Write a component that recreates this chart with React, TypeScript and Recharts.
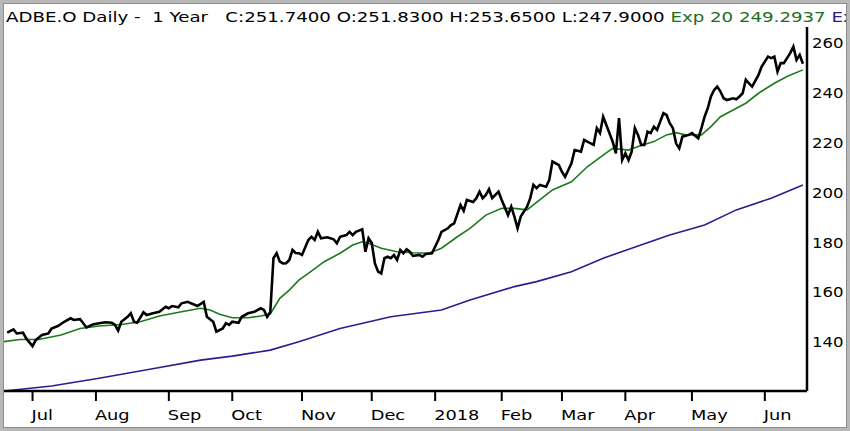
import { LineChart, Line, XAxis, YAxis } from 'recharts'

// x = trading day index since start of window, y = price
const closePrices: [number, number][] = [
  [1, 143.8], [3, 145.1], [4, 143.5], [6, 143.8], [7, 141.5], [9, 138.4], [10, 140.8],
  [12, 142.9], [14, 143.5], [15, 145.5], [17, 146.5], [19, 148.2], [21, 149.6], [22, 148.9],
  [24, 149.2], [25, 147.6], [26, 145.9], [28, 147.1], [30, 147.6], [32, 148], [34, 147.8],
  [35, 146.9], [36, 144.6], [37, 148.2], [39, 150.2], [40, 151.6], [41, 148.2], [42, 147.8],
  [44, 152], [45, 150.9], [47, 151.6], [49, 152.2], [51, 154.2], [52, 153.6], [53, 154.5],
  [55, 154], [56, 155.6], [58, 156.2], [59, 155.6], [61, 154.5], [63, 156.2], [64, 150.2],
  [66, 148.2], [67, 144.2], [69, 145.5], [70, 147.6], [71, 146.9], [72, 148.2], [74, 147.8],
  [75, 150.2], [77, 151.6], [79, 152.2], [81, 153.6], [82, 152.9], [83, 150.2], [84, 152.1],
  [85, 173.7], [86, 175.7], [87, 172.3], [88, 171.6], [89, 171.7], [90, 173], [91, 177],
  [92, 175.8], [93, 175.7], [94, 175], [96, 181], [97, 182.3], [98, 181], [99, 184.3],
  [100, 181.7], [102, 182.1], [104, 181.3], [105, 179.7], [106, 182.3], [108, 183],
  [109, 184.3], [110, 183], [111, 184.3], [113, 185.3], [114, 176.3], [115, 181.7],
  [116, 179.8], [117, 171.6], [118, 168.3], [119, 167.6], [120, 173.7], [121, 174.3],
  [122, 173.7], [123, 175], [124, 173], [125, 177], [126, 175.7], [127, 177.3], [128, 176.3],
  [129, 174.6], [131, 175], [132, 174.3], [133, 175.4], [135, 175.7], [137, 181], [138, 184.3],
  [140, 185.7], [141, 187], [142, 187.7], [144, 195.1], [145, 192.7], [146, 197.1],
  [148, 196.3], [149, 197.8], [150, 200.4], [151, 197.8], [152, 199.1], [153, 201.4],
  [154, 197.8], [155, 199.1], [156, 200.4], [157, 197.1], [159, 191], [160, 194.4],
  [161, 190.4], [162, 185.7], [163, 190.4], [165, 194.4], [166, 197.8], [167, 203.1],
  [168, 201.8], [169, 203.1], [171, 202.4], [172, 205.1], [173, 212.5], [175, 211.1],
  [176, 208.4], [177, 206.4], [178, 209.1], [179, 211.8], [180, 217.1], [182, 216.5],
  [183, 221.2], [184, 220.5], [186, 219.2], [187, 225.9], [188, 223.9], [189, 230.5],
  [190, 227.2], [192, 220.5], [193, 215.8], [194, 229.9], [195, 213.1], [196, 215.8],
  [197, 213.1], [198, 216.5], [199, 225.9], [200, 223.2], [201, 219.2], [202, 219.2],
  [203, 224.5], [204, 223.9], [205, 226.5], [206, 225.2], [208, 231.9], [209, 231.2],
  [210, 227.9], [211, 225.9], [212, 219.8], [213, 217.8], [214, 222.5], [216, 223.2],
  [217, 223.9], [219, 221.8], [220, 225.9], [221, 230.5], [222, 233.9], [223, 238.6],
  [224, 241.2], [225, 242.6], [226, 240.6], [227, 237.9], [228, 237.2], [230, 237.9],
  [231, 237.5], [232, 238.6], [233, 239.9], [234, 245.3], [235, 243.9], [236, 242.6],
  [238, 247.3], [239, 250.6], [240, 252.6], [241, 254.6], [242, 254], [243, 254.6],
  [244, 248.6], [245, 252], [246, 252], [247, 254], [248, 256], [249, 258.6], [250, 253.3],
  [251, 255.3], [252, 251.74],
]

const ema20: [number, number][] = [
  [0, 140.2], [5, 141.1], [11, 141.1], [18, 142.9], [24, 145.5], [30, 146.5], [37, 147.1],
  [43, 148.2], [49, 150.5], [56, 152.2], [62, 153.6], [65, 152.9], [68, 151.2], [72, 149.8],
  [77, 149.8], [81, 150.5], [84, 151.3], [87, 157.6], [90, 160.9], [93, 164.9], [96, 167.6],
  [101, 172.3], [106, 175.7], [110, 179], [113, 180.3], [115, 179.7], [119, 177.7],
  [124, 176.3], [129, 175.9], [134, 175.7], [138, 177.7], [143, 182.3], [147, 185.7],
  [152, 191], [157, 193.7], [161, 193.7], [165, 193.1], [169, 197.1], [173, 201.1],
  [179, 204.4], [184, 210.4], [189, 215.1], [192, 217.8], [197, 217.1], [200, 218.5],
  [205, 220.5], [209, 223.2], [212, 224.1], [215, 223.2], [220, 223.2], [223, 226.5],
  [226, 230.5], [230, 233.2], [234, 235.9], [238, 239.9], [243, 243.9], [247, 246.6],
  [252, 249.29],
]

const ema200: [number, number][] = [
  [0, 120.4], [15, 122.4], [30, 125.5], [46, 129.1], [62, 132.8], [72, 134.4], [84, 136.8],
  [93, 140.2], [106, 145.5], [122, 150.2], [138, 152.9], [147, 156.9], [161, 162.3],
  [168, 164.3], [179, 168.3], [189, 173.7], [200, 178.6], [210, 183], [221, 187],
  [231, 193.1], [242, 197.8], [252, 203.1],
]

const monthTicks = [9, 29, 52, 72, 94, 116, 136, 157, 176, 196, 217, 240]
const monthLabels = ['Jul', 'Aug', 'Sep', 'Oct', 'Nov', 'Dec', '2018', 'Feb', 'Mar', 'Apr', 'May', 'Jun']
const priceTicks = [140, 160, 180, 200, 220, 240, 260]

const FONT = '"DejaVu Sans", Verdana, sans-serif'

const toRows = (pts: [number, number][]) => pts.map(([d, v]) => ({ d, v }))

function MonthTick(props: any) {
  const { x, y, payload } = props
  const label = monthLabels[monthTicks.indexOf(payload.value)]
  return (
    <text
      transform={`translate(${x - 1},${y + 19}) scale(1.27,1)`}
      fontFamily={FONT}
      fontSize={14}
      fill="#000"
    >
      {label}
    </text>
  )
}

function PriceTick(props: any) {
  const { x, y, payload } = props
  return (
    <text
      transform={`translate(${x},${y + 5}) scale(1.18,1)`}
      fontFamily={FONT}
      fontSize={14}
      fill="#000"
    >
      {payload.value}
    </text>
  )
}

export default function App() {
  return (
    <div style={{ position: 'absolute', left: 0, top: 0, width: 850, height: 431, background: '#fff' }}>
      <LineChart width={850} height={431} margin={{ top: 27, right: 0, bottom: 0, left: 4 }}>
        <XAxis
          type="number"
          dataKey="d"
          domain={[0, 253.3]}
          ticks={monthTicks}
          tick={<MonthTick />}
          height={40}
          axisLine={{ stroke: '#000', strokeWidth: 2.5 }}
          tickLine={{ stroke: '#000', strokeWidth: 2 }}
          tickSize={10}
          tickMargin={0}
          allowDataOverflow
        />
        <YAxis
          orientation="right"
          type="number"
          domain={[120.4, 266.5]}
          ticks={priceTicks}
          tick={<PriceTick />}
          width={43}
          axisLine={{ stroke: '#000', strokeWidth: 2.5 }}
          tickLine={false}
          tickSize={0}
          tickMargin={5}
          allowDataOverflow
        />
        <Line data={toRows(ema200)} dataKey="v" type="linear" stroke="#2c1d8e" strokeWidth={1.6} dot={false} isAnimationActive={false} />
        <Line data={toRows(ema20)} dataKey="v" type="linear" stroke="#1c7a1c" strokeWidth={1.6} dot={false} isAnimationActive={false} />
        <Line data={toRows(closePrices)} dataKey="v" type="linear" stroke="#000" strokeWidth={2.6} dot={false} isAnimationActive={false} />
      </LineChart>
      <svg width={850} height={30} style={{ position: 'absolute', left: 0, top: 0 }}>
        <text
          transform="translate(6,21.7) scale(1.3,1)"
          fontFamily={FONT}
          fontSize={14}
          style={{ whiteSpace: 'pre' }}
        >
          <tspan fill="#000">{'ADBE.O Daily -  1 Year   C:251.7400 O:251.8300 H:253.6500 L:247.9000 '}</tspan>
          <tspan fill="#1b6e1b">{'Exp 20 249.2937 '}</tspan>
          <tspan fill="#2c1d8e">{'Ex'}</tspan>
        </text>
      </svg>
      <div
        style={{
          position: 'absolute', left: 0, top: 0, width: 850, height: 431, boxSizing: 'border-box',
          border: '3px solid #b8b8b8', boxShadow: 'inset 0 0 0 1px #8c8c8c', pointerEvents: 'none',
        }}
      />
    </div>
  )
}
